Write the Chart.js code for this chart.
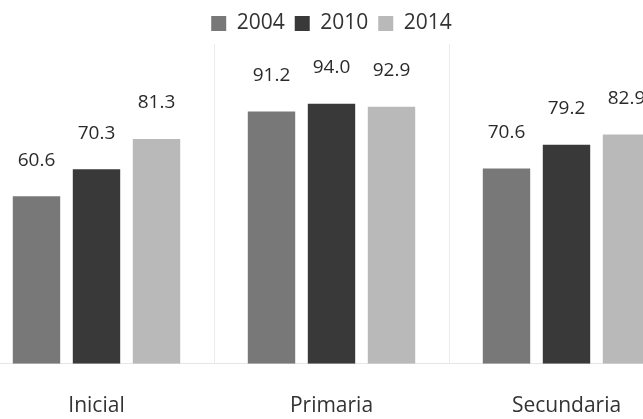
<!DOCTYPE html>
<html>
<head>
<meta charset="utf-8">
<script src="https://cdn.jsdelivr.net/npm/chart.js@4"></script>
<style>
  html, body { margin: 0; padding: 0; background: #fff; overflow: hidden; }
  #wrap { position: absolute; left: -21px; top: 0; width: 705px; height: 449px; }
</style>
</head>
<body>
<div id="wrap"><canvas id="niveles"></canvas></div>
<script>
const niveles = ['Inicial', 'Primaria', 'Secundaria'];
const anios = ['2004', '2010', '2014'];
const valores2004 = [60.6, 91.2, 70.6];
const valores2010 = [70.3, 94.0, 79.2];
const valores2014 = [81.3, 92.9, 82.9];
const colores = ['#787878', '#393939', '#b9b9b9'];

Chart.defaults.font.family = "'Open Sans', 'DejaVu Sans', sans-serif";
Chart.defaults.color = '#333';

// etiquetas encima de cada barra
const etiquetas = {
    id: 'etiquetas',
    afterDatasetsDraw(chart) {
        const ctx = chart.ctx;
        ctx.save();
        ctx.font = "19px 'Open Sans', sans-serif";
        ctx.fillStyle = '#2a2a2a';
        ctx.textAlign = 'center';
        ctx.textBaseline = 'middle';
        chart.data.datasets.forEach((ds, i) => {
            chart.getDatasetMeta(i).data.forEach((bar, j) => {
                ctx.fillText(ds.data[j].toFixed(1), bar.x, bar.y - 36);
            });
        });
        ctx.restore();
    }
};

const series = [valores2004, valores2010, valores2014];

new Chart(document.getElementById('niveles').getContext('2d'), {
    type: 'bar',
    data: {
        labels: niveles,
        datasets: anios.map((a, i) => ({
            label: a,
            data: series[i],
            backgroundColor: colores[i],
            borderWidth: 0,
            categoryPercentage: 0.766,
            barPercentage: 0.79
        }))
    },
    options: {
        responsive: true,
        maintainAspectRatio: false,
        animation: false,
        devicePixelRatio: 1,
        layout: { padding: { top: 3, bottom: 0, left: 0, right: 0 } },
        plugins: {
            legend: {
                position: 'top',
                labels: {
                    boxWidth: 15,
                    boxHeight: 15,
                    padding: 10,
                    font: { size: 21 },
                    color: '#333'
                }
            },
            tooltip: { enabled: false }
        },
        scales: {
            x: {
                grid: { offset: true, color: '#ececec', drawTicks: false },
                border: { color: '#e6e6e6' },
                ticks: { padding: 30, font: { size: 21 }, color: '#333' }
            },
            y: {
                display: false,
                min: 0,
                max: 115.6
            }
        }
    },
    plugins: [etiquetas]
});
</script>
</body>
</html>
